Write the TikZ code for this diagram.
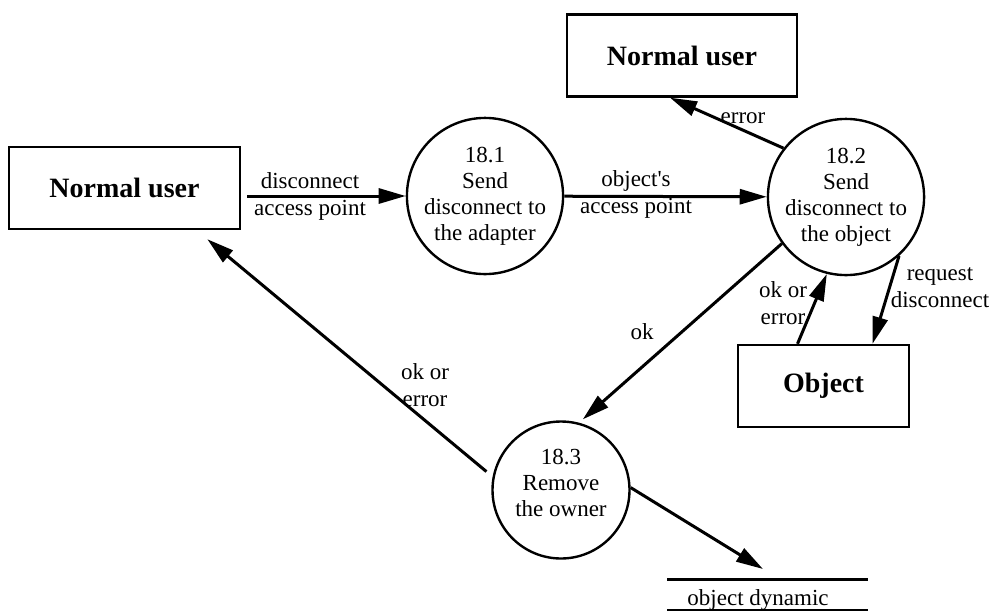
\documentclass[tikz,border=0pt]{standalone}
\usepackage{fontspec}
\setmainfont{Liberation Serif}
\usetikzlibrary{arrows.meta, calc}

\begin{document}
\begin{tikzpicture}[x=1pt, y=-1pt,
    % Define the styles for the boxes, the bubbles and the flows
    entity/.style={draw, line width=2.4pt, minimum width=231pt, minimum height=82pt,
        inner sep=0pt, font=\fontsize{28}{30}\selectfont\bfseries},
    process/.style={draw, circle, line width=2.4pt, minimum size=137pt, inner sep=0pt,
        align=center, font=\fontsize{23}{26}\selectfont},
    flowlabel/.style={align=center, inner sep=0pt, font=\fontsize{23}{27}\selectfont},
    flow/.style={line width=3pt, -{Triangle[length=27pt, width=15pt]}}
]

\useasboundingbox (0,0) rectangle (992,611);

% Define the external entities
\node[entity] (user) at (124.5,188) {Normal user};
\node[entity, minimum width=230pt] (user2) at (682,55.5) {Normal user};
\node[entity, minimum width=171pt] (obj) at (823.5,386) {Object};

% Define the processes
\node[process] (p1) at (485,196) {18.1\\Send\\disconnect to\\the adapter};
\node[process] (p2) at (846,197) {18.2\\Send\\disconnect to\\the object};
\node[process] (p3) at (561,490) {18.3\\Remove\\the owner\\[-12pt]};

% Data store
\node[flowlabel] (dyn) at (758,600) {object dynamic};
\draw[line width=3pt] (667,579) -- (868,579);
\draw[line width=1.2pt] (667,610) -- (868,610);
\coordinate (dynin) at (763,569);

% Draw the flows
\draw[flow, shorten <=6pt] (user.east |- p1.west) -- (p1.west);
\draw[flow] (p1) -- (p2);
\draw[flow] (p2.142) -- ([xshift=-12pt]user2.south);
\draw[flow, shorten >=5pt] (p2.216) -- (p3.75);
\draw[flow] ([xshift=-26pt]obj.north) -- (p2.256);
\draw[flow] (p2.312) -- ([xshift=49pt]obj.north);
\draw[flow, shorten <=8pt, shorten >=14pt] (p3.169) -- ([xshift=72pt]user.south);
\draw[flow] (p3.2) -- (dynin);

% Add the flow labels
\node[flowlabel] (l1) at (310,196) {disconnect\\access point};
\node[flowlabel] (l2) at (636,194) {object\textquotesingle s\\access point};
\node[flowlabel] (l3) at (743,118) {error};
\node[flowlabel] (l4) at (642,332) {ok};
\node[flowlabel] (l5) at (783,303) {ok or\\error};
\node[flowlabel] (l6) at (940,288) {request\\disconnect};
\node[flowlabel] (l7) at (425,385) {ok or\\error};

\end{tikzpicture}
\end{document}
